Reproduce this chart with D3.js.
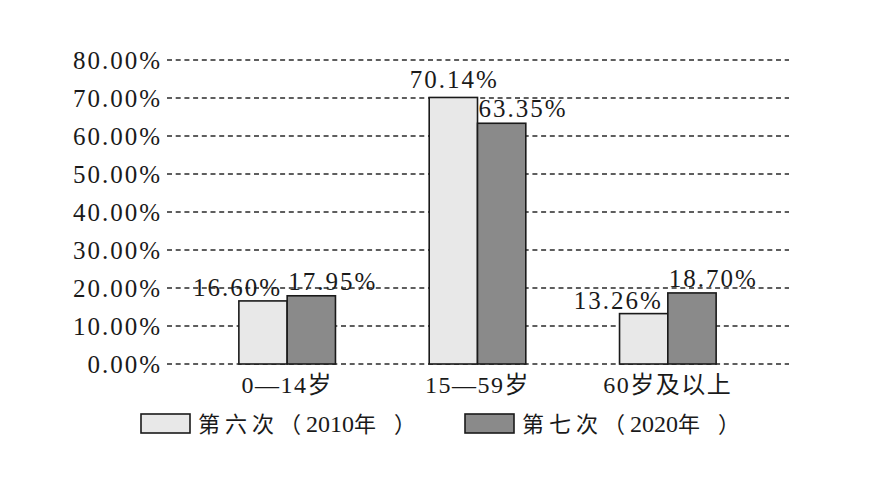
<!DOCTYPE html>
<html>
<head>
<meta charset="utf-8">
<script src="https://cdn.jsdelivr.net/npm/d3@7"></script>
<style>
  html, body { margin: 0; padding: 0; background: #fff; }
  svg { display: block; }
  text { fill: #1a1a1a; }
</style>
</head>
<body>
<svg id="chart" width="870" height="489"></svg>
<script>
const categories = ["0—14岁", "15—59岁", "60岁及以上"];
const seriesNames = ["第六次（2010年）", "第七次（2020年）"];
const values2010 = [16.60, 70.14, 13.26];
const values2020 = [17.95, 63.35, 18.70];
const yTicks = [0, 10, 20, 30, 40, 50, 60, 70, 80];
const seriesColors = ["#e8e8e8", "#8a8a8a"];

const svg = d3.select("#chart");
const numFont = "'Liberation Serif', 'DejaVu Serif', 'Noto Sans CJK SC', serif";
const cjkFont = "'Liberation Serif', 'Noto Sans CJK SC', serif";
const LS = 2;
const FS = 25;

const y = d3.scaleLinear().domain([0, 80]).range([364, 60]);
const x = d3.scaleBand().domain(categories).range([192, 763]).paddingInner(0).paddingOuter(0);
const barW = 48.3;
const xs = d3.scaleBand().domain(seriesNames).range([0, barW * 2]);

const gridX0 = 167, gridX1 = 789;

// grid lines
svg.append("g").selectAll("line").data(yTicks).join("line")
  .attr("x1", gridX0).attr("x2", gridX1)
  .attr("y1", d => y(d)).attr("y2", d => y(d))
  .attr("stroke", "#2a2a2a").attr("stroke-width", 1.5)
  .attr("stroke-dasharray", "5,3.7");

// y axis labels
const yAxis = d3.axisLeft(y).tickValues(yTicks).tickSize(0).tickPadding(0)
  .tickFormat(d => d3.format(".2f")(d) + "%");
const gy = svg.append("g").attr("transform", `translate(${160 + LS},0)`).call(yAxis);
gy.select(".domain").remove();
gy.selectAll("text")
  .attr("font-family", numFont).attr("font-size", FS)
  .attr("letter-spacing", LS)
  .attr("fill", "#1a1a1a").attr("dy", "0.34em");

// bars
const data = categories.map((c, i) => ({
  cat: c,
  vals: [
    { s: seriesNames[0], v: values2010[i], idx: 0 },
    { s: seriesNames[1], v: values2020[i], idx: 1 }
  ]
}));

const groups = svg.append("g").selectAll("g").data(data).join("g")
  .attr("transform", d => `translate(${x(d.cat) + x.bandwidth() / 2 - barW},0)`);

groups.selectAll("rect").data(d => d.vals).join("rect")
  .attr("x", d => xs(d.s))
  .attr("width", xs.bandwidth())
  .attr("y", d => y(d.v))
  .attr("height", d => y(0) - y(d.v))
  .attr("fill", d => seriesColors[d.idx])
  .attr("stroke", "#1a1a1a").attr("stroke-width", 1.6);

// value labels
groups.each(function (d) {
  const g = d3.select(this);
  const a = d.vals[0], b = d.vals[1];
  const centered = a.v >= b.v;
  g.append("text")
    .attr("x", centered ? xs(a.s) + xs.bandwidth() / 2 + LS / 2 : xs(a.s) + xs.bandwidth() - 7 + LS)
    .attr("y", y(a.v) - (centered ? 9 : 5))
    .attr("text-anchor", centered ? "middle" : "end")
    .attr("font-family", numFont).attr("font-size", FS).attr("letter-spacing", LS)
    .text(d3.format(".2f")(a.v) + "%");
  g.append("text")
    .attr("x", xs(b.s) + 1)
    .attr("y", y(b.v) - 6)
    .attr("text-anchor", "start")
    .attr("font-family", numFont).attr("font-size", FS).attr("letter-spacing", LS)
    .text(d3.format(".2f")(b.v) + "%");
});

// category labels
const xAxis = d3.axisBottom(x).tickSize(0).tickPadding(0);
const gx = svg.append("g").attr("transform", `translate(0,393)`).call(xAxis);
gx.select(".domain").remove();
gx.selectAll("text")
  .attr("font-family", cjkFont).attr("font-size", 24)
  .attr("letter-spacing", 1.5)
  .attr("fill", "#1a1a1a").attr("dy", 0).attr("y", 0);

// legend
const legendX = [141, 465];
const leg = svg.append("g").selectAll("g").data(seriesNames).join("g")
  .attr("transform", (d, i) => `translate(${legendX[i]},414)`);
leg.append("rect")
  .attr("width", 49).attr("height", 19)
  .attr("fill", (d, i) => seriesColors[i])
  .attr("stroke", "#1a1a1a").attr("stroke-width", 1.6);
leg.each(function (name) {
  const m = name.match(/^(.*?（)(\d+)(年)(）)$/);
  const t = d3.select(this).append("text")
    .attr("x", 57).attr("y", 18)
    .attr("font-family", cjkFont);
  t.append("tspan").attr("font-size", 22).attr("letter-spacing", 5).text(m[1]);
  t.append("tspan").attr("font-size", 24).attr("letter-spacing", 0).text(m[2]);
  t.append("tspan").attr("font-size", 22).attr("letter-spacing", 0).text(m[3]);
  t.append("tspan").attr("font-size", 22).attr("dx", 18).text(m[4]);
});
</script>
</body>
</html>
